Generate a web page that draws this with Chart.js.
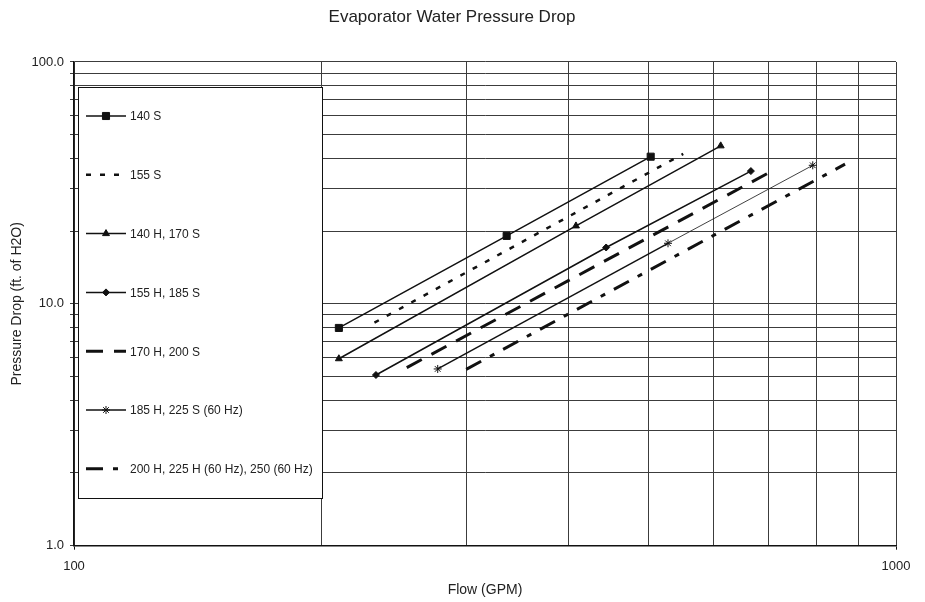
<!doctype html>
<html lang="en">
<head>
    <title>Evaporator Water Pressure Drop</title>
    <meta charset="utf-8">
    <script src="https://cdn.jsdelivr.net/npm/chart.js@4.4.1/dist/chart.umd.min.js"></script>
    <style>
        html, body { margin: 0; padding: 0; background: #fff; }
    </style>
</head>
<body>
<canvas id="pressureDropChart" width="925" height="602"></canvas>
<script>
    // series labels, in legend order
    const seriesNames = ['140 S', '155 S', '140 H, 170 S', '155 H, 185 S', '170 H, 200 S',
        '185 H, 225 S (60 Hz)', '200 H, 225 H (60 Hz), 250 (60 Hz)'];

    // flow (GPM) and pressure drop (ft. of H2O)
    const flow140S = [210, 336, 503];
    const drop140S = [7.95, 19.1, 40.6];
    const flow155S = [232, 551];
    const drop155S = [8.36, 41.7];
    const flow140H = [210, 408, 612];
    const drop140H = [5.93, 21.0, 45.0];
    const flow155H = [233, 444, 666];
    const drop155H = [5.08, 17.1, 35.4];
    const flow170H = [254, 714];
    const drop170H = [5.45, 36.1];
    const flow185H = [277, 528, 792];
    const drop185H = [5.38, 17.8, 37.4];
    const flow200H = [300, 867];
    const drop200H = [5.36, 37.8];

    // grid lines / ticks
    const xTickValues = [100, 200, 300, 400, 500, 600, 700, 800, 900, 1000];
    const yTickValues = [1, 2, 3, 4, 5, 6, 7, 8, 9, 10, 20, 30, 40, 50, 60, 70, 80, 90, 100];
    const xTickLabels = {100: '100', 1000: '1000'};
    const yTickLabels = {1: '1.0', 10: '10.0', 100: '100.0'};

    const FONT = "'Liberation Sans', Arial, sans-serif";
    const INK = '#111';

    function pts(xs, ys) {
        return xs.map((x, i) => ({x: x, y: ys[i]}));
    }

    const datasets = [
        {data: pts(flow140S, drop140S), borderWidth: 1.5, borderDash: [], pointStyle: 'rect', pointRadius: 5},
        {data: pts(flow155S, drop155S), borderWidth: 2.5, borderDash: [5, 9], pointStyle: false, pointRadius: 0},
        {data: pts(flow140H, drop140H), borderWidth: 1.5, borderDash: [], pointStyle: 'triangle', pointRadius: 4},
        {data: pts(flow155H, drop155H), borderWidth: 1.5, borderDash: [], pointStyle: 'rectRot', pointRadius: 3.5},
        {data: pts(flow170H, drop170H), borderWidth: 3, borderDash: [17, 11], pointStyle: false, pointRadius: 0},
        {
            data: pts(flow185H, drop185H), borderWidth: 1.5, borderDash: [], pointStyle: 'star', pointRadius: 4,
            segment: {borderWidth: c => c.p0DataIndex === 1 ? 0.8 : 1.5}
        },
        {data: pts(flow200H, drop200H), borderWidth: 3, borderDash: [17, 10, 5, 10], pointStyle: false, pointRadius: 0}
    ].map((d, i) => Object.assign({
        label: seriesNames[i],
        borderColor: INK,
        backgroundColor: INK,
        pointBorderColor: INK,
        pointBackgroundColor: INK,
        pointBorderWidth: 1,
        fill: false,
        tension: 0
    }, d));

    // legend drawn as a boxed panel inside the plot, like the original
    const boxedLegend = {
        id: 'boxedLegend',
        beforeDatasetsDraw(chart) {
            const ctx = chart.ctx;
            const left = 78.5, top = 87.5, right = 322.5, bottom = 498.5;
            ctx.save();
            ctx.fillStyle = '#fff';
            ctx.fillRect(left, top, right - left, bottom - top);
            ctx.strokeStyle = INK;
            ctx.lineWidth = 1;
            ctx.strokeRect(left, top, right - left, bottom - top);

            chart.data.datasets.forEach((ds, i) => {
                const y = 116 + 58.8 * i;
                ctx.beginPath();
                ctx.setLineDash(ds.borderDash);
                ctx.lineWidth = ds.borderWidth;
                ctx.strokeStyle = INK;
                ctx.moveTo(86, y);
                ctx.lineTo(126, y);
                ctx.stroke();
                ctx.setLineDash([]);
                if (ds.pointStyle) {
                    ctx.fillStyle = INK;
                    ctx.lineWidth = 1;
                    Chart.helpers.drawPoint(ctx, {
                        pointStyle: ds.pointStyle, radius: ds.pointRadius, rotation: 0, borderWidth: 1
                    }, 106, y);
                }
                ctx.fillStyle = '#222';
                ctx.font = '12px ' + FONT;
                ctx.textAlign = 'left';
                ctx.textBaseline = 'middle';
                ctx.fillText(ds.label, 130, y + 1);
            });
            ctx.restore();
        }
    };

    const gridColor = '#3c3c3c';

    function setTicks(values) {
        return scale => { scale.ticks = values.map(v => ({value: v})); };
    }

    new Chart(document.getElementById('pressureDropChart'), {
        type: 'line',
        data: {datasets: datasets},
        plugins: [boxedLegend],
        options: {
            responsive: false,
            animation: false,
            layout: {padding: {left: 8, right: 29, top: 0, bottom: 0}},
            plugins: {
                legend: {display: false},
                tooltip: {enabled: false},
                title: {
                    display: true,
                    text: 'Evaporator Water Pressure Drop',
                    color: '#222',
                    font: {family: FONT, size: 17, weight: 'normal'},
                    padding: {top: 7.3, bottom: 34.3}
                }
            },
            scales: {
                x: {
                    type: 'logarithmic',
                    min: 100,
                    max: 1000,
                    afterBuildTicks: setTicks(xTickValues),
                    afterFit: s => { s.height = 56.3; s.paddingRight = 0; },
                    border: {color: INK, width: 1.5},
                    grid: {
                        color: gridColor,
                        lineWidth: 1,
                        tickLength: 4,
                        tickColor: c => (c.tick && xTickLabels[c.tick.value]) ? INK : 'rgba(0,0,0,0)'
                    },
                    ticks: {
                        autoSkip: false,
                        maxRotation: 0,
                        padding: 9,
                        color: '#222',
                        font: {family: FONT, size: 13},
                        callback: v => xTickLabels[v] || ''
                    },
                    title: {
                        display: true,
                        text: 'Flow (GPM)',
                        color: '#222',
                        font: {family: FONT, size: 14},
                        padding: {top: 0, bottom: 3.6}
                    }
                },
                y: {
                    type: 'logarithmic',
                    min: 1,
                    max: 100,
                    afterBuildTicks: setTicks(yTickValues),
                    afterFit: s => { s.width = 66; },
                    border: {color: INK, width: 1.5},
                    grid: {color: gridColor, lineWidth: 1, tickLength: 4, tickColor: gridColor},
                    ticks: {
                        autoSkip: false,
                        padding: 6,
                        color: '#222',
                        font: {family: FONT, size: 13},
                        callback: v => yTickLabels[v] || ''
                    },
                    title: {
                        display: true,
                        text: 'Pressure Drop (ft. of H2O)',
                        color: '#222',
                        font: {family: FONT, size: 14},
                        padding: {top: 1.1, bottom: 0}
                    }
                }
            }
        }
    });
</script>
</body>
</html>
